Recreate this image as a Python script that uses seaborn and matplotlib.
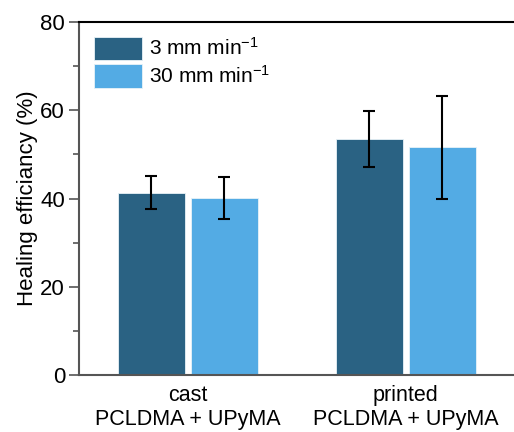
import pandas as pd
import numpy as np
import seaborn as sns
import matplotlib.pyplot as plt

# values
samples = ["cast\nPCLDMA + UPyMA", "printed\nPCLDMA + UPyMA"]
speeds = ["3 mm min$^{-1}$", "30 mm min$^{-1}$"]
eff_3 = [41.3, 53.5]
eff_30 = [40.1, 51.6]
err_3 = [3.7, 6.4]
err_30 = [4.8, 11.7]

df = pd.DataFrame({
    "sample": samples * 2,
    "speed": [speeds[0]] * 2 + [speeds[1]] * 2,
    "eff": eff_3 + eff_30,
    "err": err_3 + err_30,
})

sns.set_style("ticks")
plt.rcParams["font.family"] = ["Liberation Sans", "DejaVu Sans"]
plt.rcParams["mathtext.default"] = "regular"
plt.rcParams["text.color"] = "black"
plt.rcParams["axes.labelcolor"] = "black"
plt.rcParams["xtick.labelcolor"] = "black"
plt.rcParams["ytick.labelcolor"] = "black"

fig = plt.figure(figsize=(5.14, 4.32), dpi=100)
ax = fig.add_axes([0.1537, 0.132, 0.848, 0.817])

colors = ["#2a6283", "#53abe4"]
sns.barplot(data=df, x="sample", y="eff", hue="speed", palette=colors,
            saturation=1, width=0.67, gap=0.09, errorbar=None, ax=ax,
            edgecolor="#e8f2f8", linewidth=0.6)

# error bars on top of each bar
for cont, (_, sub) in zip(ax.containers, df.groupby("speed", sort=False)):
    xs = [p.get_x() + p.get_width() / 2 for p in cont.patches]
    ax.errorbar(xs, sub["eff"], yerr=sub["err"], fmt="none", ecolor="black",
                elinewidth=1.5, capsize=4, capthick=1.5)

ax.set_ylim(0, 80)
ax.set_xlim(-0.5, 1.5)
ax.set_yticks([0, 20, 40, 60, 80])
ax.set_yticks([10, 30, 50, 70], minor=True)
ax.tick_params(axis="y", which="major", length=7, width=1.2, color="#555555", labelsize=16, pad=3)
ax.tick_params(axis="y", which="minor", length=4, width=1.2, color="#555555")
ax.tick_params(axis="x", length=0, labelsize=15.5, pad=7)
ax.set_xlabel("")
ax.set_ylabel("Healing efficiancy (%)", fontsize=16, labelpad=2)

for s in ["left", "bottom"]:
    ax.spines[s].set_color("#555555")
    ax.spines[s].set_linewidth(1.5)
ax.spines["top"].set_color("black")
ax.spines["top"].set_linewidth(1.5)
ax.spines["right"].set_visible(False)

leg = ax.legend(loc="upper left", bbox_to_anchor=(0.0, 1.0), frameon=False,
                fontsize=15, handlelength=2.3, handleheight=1.35,
                handletextpad=0.35, labelspacing=0.2, borderaxespad=0.3)
for h in leg.legend_handles:
    h.set_edgecolor("#e8f2f8")

fig.savefig("out.png", dpi=100)
